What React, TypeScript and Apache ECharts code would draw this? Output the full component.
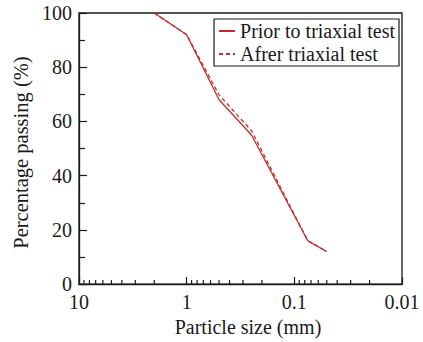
import React, { useEffect, useRef } from "react";
import * as echarts from "echarts";

const particleSizes = [2, 1, 0.5, 0.25, 0.075, 0.05];
const priorPassing = [100, 92, 68, 55, 16, 12];
const afterPassing = [100, 92, 69.8, 56.6, 16, 12];
const seriesNames = ["Prior to triaxial test", "Afrer triaxial test"];
const minorTickValues: number[] = [];
[1, 0.1, 0.01].forEach((d) => {
  for (let k = 2; k <= 9; k++) minorTickValues.push(+(k * d).toFixed(4));
});

const FONT = "Liberation Serif";
const RED = "#c62a2a";
const AX = "#1a1a1a";

export default function App() {
  const ref = useRef<HTMLDivElement>(null);
  useEffect(() => {
    if (!ref.current) return;
    const chart = echarts.init(ref.current, undefined, { renderer: "svg" });
    chart.setOption({
      animation: false,
      backgroundColor: "#fff",
      grid: {
        left: 79,
        right: 21,
        top: 13,
        bottom: 49,
        show: true,
        borderColor: AX,
        borderWidth: 1.3,
      },
      legend: {
        data: seriesNames,
        orient: "vertical",
        right: 24,
        top: 19,
        itemWidth: 16,
        itemHeight: 14,
        itemGap: 3,
        padding: [2, 4, 2, 4],
        borderColor: AX,
        borderWidth: 1.2,
        itemStyle: { opacity: 0 },
        textStyle: { fontFamily: FONT, fontSize: 20, color: AX, lineHeight: 20 },
      },
      xAxis: {
        type: "log",
        logBase: 10,
        min: 0.01,
        max: 10,
        inverse: true,
        name: "Particle size (mm)",
        nameLocation: "middle",
        nameGap: 28,
        nameTextStyle: { fontFamily: FONT, fontSize: 20, color: AX, padding: [0, 0, 0, 15] },
        axisLine: { lineStyle: { color: AX, width: 1.3 } },
        axisTick: { inside: true, length: 7, lineStyle: { color: AX, width: 1.2 } },
        axisLabel: {
          fontFamily: FONT,
          fontSize: 20,
          color: AX,
          margin: 8,
          formatter: (v: number) => String(+v.toPrecision(3)),
        },
        splitLine: { show: false },
      },
      yAxis: {
        type: "value",
        min: 0,
        max: 100,
        interval: 20,
        name: "Percentage passing (%)",
        nameLocation: "middle",
        nameGap: 39,
        nameTextStyle: { fontFamily: FONT, fontSize: 20.5, color: AX, padding: [0, 0, 0, -8] },
        axisLine: { show: true, lineStyle: { color: AX, width: 1.3 } },
        axisTick: { inside: true, length: 8, lineStyle: { color: AX, width: 1.2 } },
        minorTick: { show: true, splitNumber: 2, length: 6, lineStyle: { color: AX, width: 1.2 } },
        axisLabel: { fontFamily: FONT, fontSize: 20, color: AX, margin: 7 },
        splitLine: { show: false },
      },
      series: [
        {
          name: seriesNames[0],
          type: "line",
          symbol: "none",
          data: particleSizes.map((s, i) => [s, priorPassing[i]]),
          lineStyle: { color: RED, width: 1.3 },
          itemStyle: { color: RED },
          z: 3,
        },
        {
          name: seriesNames[1],
          type: "line",
          symbol: "none",
          data: particleSizes.map((s, i) => [s, afterPassing[i]]),
          lineStyle: { color: RED, width: 1.3, type: [4, 3] },
          itemStyle: { color: RED },
          z: 2,
        },
        {
          name: "minorTicks",
          type: "custom",
          silent: true,
          clip: false,
          data: minorTickValues.map((v) => [v, 0]),
          renderItem: (params: any, api: any) => {
            const p = api.coord([api.value(0), 0]);
            return {
              type: "line",
              shape: { x1: p[0], y1: p[1], x2: p[0], y2: p[1] - 4 },
              style: { stroke: AX, lineWidth: 1.2 },
            };
          },
          z: 4,
        },
      ],
    });
    return () => chart.dispose();
  }, []);
  return <div ref={ref} style={{ width: 423, height: 342, position: "absolute", left: 0, top: 0 }} />;
}
